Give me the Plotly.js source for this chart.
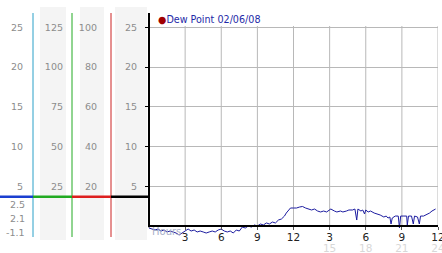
<!DOCTYPE html>
<html><head><meta charset="utf-8">
<script src="https://cdn.plot.ly/plotly-3.0.1.min.js"></script>
<style>html,body{margin:0;padding:0;background:#fff}#c{width:442px;height:253px}</style>
</head><body><div id="c"></div>
<script>
const hours = [0,0.25,0.5,0.75,1,1.25,1.5,1.75,2,2.25,2.5,2.75,3,3.25,3.5,3.75,4,4.25,4.5,4.75,5,5.25,5.5,5.75,6,6.25,6.5,6.75,7,7.25,7.5,7.6,7.75,8,8.25,8.5,8.75,9,9.25,9.5,9.75,10,10.25,10.5,10.75,11,11.25,11.4,11.6,11.75,12,12.25,12.5,12.75,13,13.25,13.5,13.75,14,14.25,14.5,14.75,15,15.1,15.4,15.6,15.9,16.1,16.4,16.6,16.9,17.1,17.25,17.35,17.6,17.75,17.9,18,18.2,18.4,18.7,18.95,19.2,19.5,19.7,19.85,20,20.1,20.2,20.45,20.7,20.8,20.9,21.1,21.4,21.45,21.55,21.8,21.95,22.05,22.3,22.45,22.55,22.8,23,23.3,23.5,23.8];
const dewPoint = [-0.2,-0.33,-0.45,-0.33,-0.58,-0.45,-0.7,-0.58,-0.7,-0.83,-1.08,-0.83,-0.58,-0.33,-0.58,-0.45,-0.7,-0.58,-0.7,-0.83,-0.7,-0.58,-0.7,-0.45,-0.33,-0.58,-0.7,-0.58,-0.83,-0.45,-0.58,-0.33,-0.08,-0.2,0.05,-0.08,0.18,0.05,0.3,0.18,0.43,0.3,0.55,0.43,0.8,0.93,1.3,1.68,2.06,2.31,2.31,2.31,2.43,2.5,2.31,2.18,2.06,2.18,1.93,1.81,1.93,1.81,2.06,2.18,1.93,1.81,1.93,1.81,1.93,2.06,2.06,2.18,0.8,2.18,1.93,2.06,1.56,2.06,1.81,1.93,1.68,1.56,1.43,1.18,1.3,1.05,1.18,0.3,1.05,1.3,1.3,-0.2,1.3,1.3,1.3,0.18,1.3,1.3,0.3,1.3,1.18,0.3,1.3,1.3,1.43,1.68,1.93,2.18];
const seriesName = 'Dew Point 02/06/08';
const xTickVals = [3,6,9,12,15,18,21,24];
const xTickText = ['3','6','9','12','3','6','9','12'];
const x24Vals = [15,18,21,24];
const x24Text = ['15','18','21','24'];
const yTickVals = [5,10,15,20,25];
const y2TickVals = [20,40,60,80,100];
const y3TickVals = [25,50,75,100,125];
const statLabels = ['2.5','2.1','-1.1'];
const levelLine = 3.73;
const xLabel = 'Hours';

const W = 442, H = 253;
const px = v => v / W, py = v => 1 - v / H;
const yRange = [-1.706, 26.78];
const yDom = [py(240), py(13)];
const xDom = [px(149), px(438)];
const zeroPos = yDom[0] + (0 - yRange[0]) / (yRange[1] - yRange[0]) * (yDom[1] - yDom[0]);
const FONT = 'DejaVu Sans, Verdana, sans-serif';
const grey = '#8c8c8c';

const traces = [
  {x: hours, y: dewPoint, type: 'scatter', mode: 'lines', line: {color: '#1c1ca0', width: 1}, showlegend: false, hoverinfo: 'skip'},
  {x: [null], y: [null], xaxis: 'x2', yaxis: 'y', showlegend: false, hoverinfo: 'skip'},
  {x: [null], y: [null], yaxis: 'y2', showlegend: false, hoverinfo: 'skip'},
  {x: [null], y: [null], yaxis: 'y3', showlegend: false, hoverinfo: 'skip'},
  {x: [null], y: [null], yaxis: 'y4', showlegend: false, hoverinfo: 'skip'}
];

const yCommon = {domain: yDom, showgrid: false, zeroline: false, ticks: '', fixedrange: true,
  tickfont: {family: FONT, size: 9.5, color: grey}, showline: false};

const shapes = [];
[[40,66],[80,104],[115,147]].forEach(b => shapes.push({type: 'rect', xref: 'paper', yref: 'paper',
  x0: px(b[0]), x1: px(b[1]), y0: py(240), y1: py(7), fillcolor: '#f4f4f4', line: {width: 0}, layer: 'below'}));
[[33,'#2aa0c8'],[72,'#22aa22'],[111,'#cc2222']].forEach(v => shapes.push({type: 'line', xref: 'paper', yref: 'paper',
  x0: px(v[0]), x1: px(v[0]), y0: py(237), y1: py(13), line: {color: v[1], width: 1}}));
xTickVals.forEach(t => shapes.push({type: 'line', xref: 'x', yref: 'y', x0: t, x1: t, y0: 0, y1: 25.15,
  line: {color: '#b8b8b8', width: 1}, layer: 'below'}));
shapes.push({type: 'line', xref: 'paper', yref: 'y', x0: xDom[0], x1: xDom[0], y0: -0.1, y1: yRange[1],
  line: {color: '#000', width: 2}});
[[0,33,'#1a3fd0'],[33,72,'#22aa22'],[72,111,'#dd1f1f'],[111,149,'#000000']].forEach(s => shapes.push({
  type: 'line', xref: 'paper', yref: 'y', x0: px(s[0]), x1: px(s[1]), y0: levelLine, y1: levelLine,
  line: {color: s[2], width: 2.5}, layer: 'above'}));

const annotations = [
  {xref: 'paper', yref: 'paper', x: px(155.5), y: py(20), xanchor: 'left', yanchor: 'middle', showarrow: false,
   text: '<span style="color:#a00000">●</span>' + seriesName, font: {family: FONT, size: 9.6, color: '#1e2aa8'}},
  {xref: 'paper', yref: 'paper', x: px(150), y: py(231), xanchor: 'left', yanchor: 'middle', showarrow: false,
   text: xLabel, font: {family: FONT, size: 10, color: '#a8b0c8'}}
];
statLabels.forEach((s, i) => annotations.push({xref: 'paper', yref: 'paper', x: px(27), y: py(204 + 14 * i),
  xanchor: 'right', yanchor: 'middle', showarrow: false, text: s, font: {family: FONT, size: 9.5, color: grey}}));

const layout = {
  width: W, height: H, margin: {l: 0, r: 0, t: 0, b: 0}, paper_bgcolor: '#fff', plot_bgcolor: 'rgba(0,0,0,0)',
  showlegend: false,
  xaxis: {domain: xDom, range: [0, 24], anchor: 'free', position: zeroPos, showline: true, linecolor: '#000', linewidth: 2,
    tickvals: xTickVals, ticktext: xTickText, ticks: 'outside', ticklen: 3, tickcolor: '#555', showgrid: false, zeroline: false,
    ticklabelstandoff: -2, ticklabeloverflow: 'allow', tickfont: {family: FONT, size: 10.5, color: '#222'}, fixedrange: true},
  xaxis2: {domain: xDom, range: [0, 24], overlaying: 'x', anchor: 'free', position: py(240), showline: false, ticks: '',
    tickvals: x24Vals, ticktext: x24Text, showgrid: false, zeroline: false, ticklabeloverflow: 'allow',
    tickfont: {family: FONT, size: 10.5, color: '#d8d8d8'}, fixedrange: true},
  yaxis: Object.assign({}, yCommon, {range: yRange, tickvals: yTickVals, showgrid: true, gridcolor: '#b8b8b8', gridwidth: 1,
    ticks: 'outside', ticklen: 3, tickcolor: '#000', ticklabelstandoff: 6}),
  yaxis2: Object.assign({}, yCommon, {overlaying: 'y', anchor: 'free', position: px(111), range: yRange.map(v => v * 4),
    tickvals: y2TickVals, ticklabelstandoff: 14}),
  yaxis3: Object.assign({}, yCommon, {overlaying: 'y', anchor: 'free', position: px(72), range: yRange.map(v => v * 5),
    tickvals: y3TickVals, ticklabelstandoff: 9}),
  yaxis4: Object.assign({}, yCommon, {overlaying: 'y', anchor: 'free', position: px(33), range: yRange,
    tickvals: yTickVals, ticklabelstandoff: 10}),
  shapes: shapes, annotations: annotations
};
Plotly.newPlot('c', traces, layout, {staticPlot: true, displayModeBar: false});
</script></body></html>
